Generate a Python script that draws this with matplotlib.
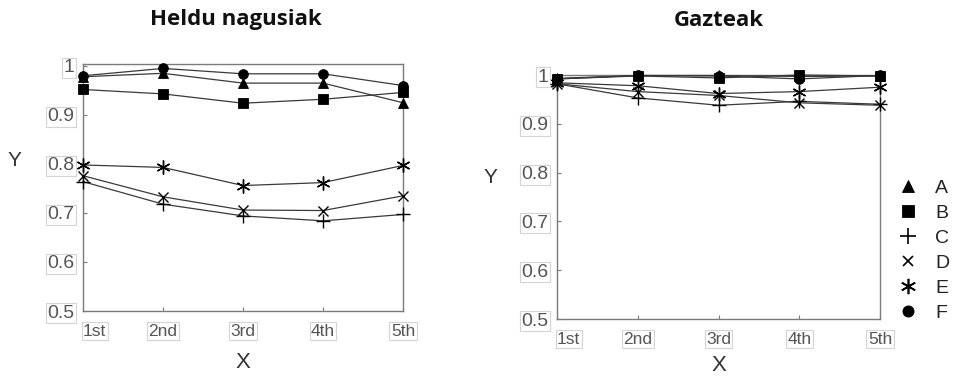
import matplotlib
matplotlib.use("Agg")
import matplotlib.pyplot as plt
from matplotlib.lines import Line2D

x_labels = ["1st", "2nd", "3rd", "4th", "5th"]
x_pos = [1, 2, 3, 4, 5]
series_names = ["A", "B", "C", "D", "E", "F"]
markers = ["^", "s", "+", "x", (6, 2, 0), "o"]

# Heldu nagusiak
old_A = [0.978, 0.985, 0.965, 0.965, 0.925]
old_B = [0.952, 0.943, 0.924, 0.932, 0.946]
old_C = [0.764, 0.718, 0.694, 0.684, 0.697]
old_D = [0.776, 0.733, 0.706, 0.705, 0.735]
old_E = [0.798, 0.793, 0.756, 0.762, 0.797]
old_F = [0.980, 0.995, 0.984, 0.984, 0.960]

# Gazteak
young_A = [0.993, 0.999, 0.999, 0.997, 0.998]
young_B = [0.992, 0.998, 0.994, 1.000, 0.998]
young_C = [0.982, 0.953, 0.938, 0.946, 0.940]
young_D = [0.982, 0.966, 0.958, 0.943, 0.938]
young_E = [0.984, 0.978, 0.962, 0.966, 0.975]
young_F = [0.992, 0.999, 0.998, 0.992, 0.999]

y_ticks = [0.5, 0.6, 0.7, 0.8, 0.9, 1.0]
y_ticklabels = ["0.5", "0.6", "0.7", "0.8", "0.9", "1"]

W, H = 957, 376
fig = plt.figure(figsize=(W / 100, H / 100), dpi=100)

plot_ms = [7, 7, 10, 7, 10, 7]
leg_ms = [9, 8, 11, 7, 11, 8]
spine_c = "#7a7a7a"
tick_c = "#555555"
box = dict(boxstyle="square,pad=0.08", fc="none", ec="#d4d4d4", lw=0.8)


def is_line_marker(m):
    return m in ("+", "x") or isinstance(m, tuple)


def make_ax(rect, data, ylim_top, title, title_x, xpad, xlabpad):
    ax = fig.add_axes(rect)
    for vals, m, ms in zip(data, markers, plot_ms):
        ax.plot(x_pos, vals, color="#3a3a3a", lw=0.9, marker=m,
                markersize=ms, markerfacecolor="black",
                markeredgecolor="black",
                markeredgewidth=1.0 if is_line_marker(m) else 0.6,
                clip_on=False, zorder=3)
    ax.set_xlim(1, 5)
    ax.set_ylim(0.5, ylim_top)
    ax.set_xticks(x_pos)
    ax.set_xticklabels(x_labels, family="Liberation Sans", fontsize=12.5,
                       color=tick_c)
    ax.set_yticks(y_ticks)
    ax.set_yticklabels(y_ticklabels, family="Liberation Sans", fontsize=14,
                       color=tick_c)
    for lab in ax.get_xticklabels() + ax.get_yticklabels():
        lab.set_bbox(box)
    ax.get_xticklabels()[0].set_horizontalalignment("left")
    ax.tick_params(direction="in", length=3, width=0.8, color=spine_c)
    ax.tick_params(axis="y", pad=6)
    ax.tick_params(axis="x", pad=xpad)
    for s in ax.spines.values():
        s.set_color(spine_c)
        s.set_linewidth(1.0)
    ax.set_xlabel("X", family="Liberation Sans", fontsize=16, color="#333333",
                  labelpad=xlabpad)
    fig.text(title_x / W, 1 - 20 / H, title, ha="center", va="center",
             family="Open Sans", fontweight="bold", fontsize=16,
             color="#111111")
    return ax


ax1 = make_ax([83 / W, 1 - 311 / H, 320 / W, 247 / H],
              [old_A, old_B, old_C, old_D, old_E, old_F], 1.004,
              "Heldu nagusiak", 236, 9, 10)
ax2 = make_ax([557 / W, 1 - 319 / H, 323 / W, 244 / H],
              [young_A, young_B, young_C, young_D, young_E, young_F], 1.0,
              "Gazteak", 719, 9, 6)

fig.text(14 / W, 1 - 161 / H, "Y", family="Liberation Sans", fontsize=15,
         color="#333333", ha="center", va="center")
fig.text(490 / W, 1 - 178 / H, "Y", family="Liberation Sans", fontsize=15,
         color="#333333", ha="center", va="center")

handles = [Line2D([], [], linestyle="none", marker=m, color="black",
                  markersize=ms,
                  markeredgewidth=1.2 if is_line_marker(m) else 0.6)
           for m, ms in zip(markers, leg_ms)]
leg = fig.legend(handles, series_names, loc="upper left",
                 bbox_to_anchor=(898 / W, 1 - 179 / H), frameon=False,
                 handlelength=1.0, handletextpad=0.9, labelspacing=0.38,
                 borderaxespad=0, borderpad=0,
                 prop={"family": "Liberation Sans", "size": 14})
for t in leg.get_texts():
    t.set_color("#222222")

fig.savefig("out.png", dpi=100)
